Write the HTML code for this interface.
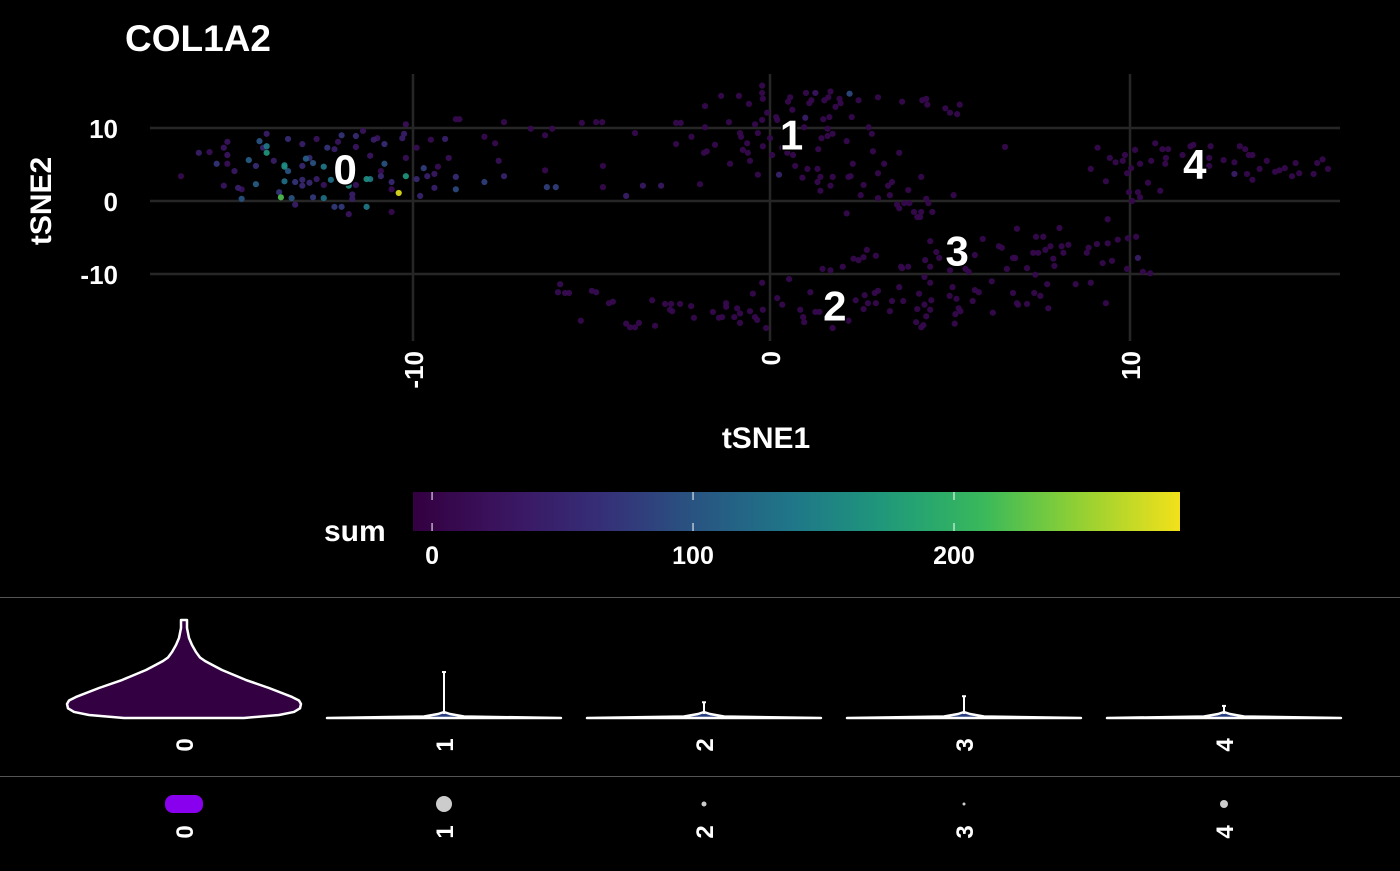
<!DOCTYPE html>
<html><head><meta charset="utf-8">
<style>
html,body{margin:0;padding:0;background:#000;}
body{width:1400px;height:866px;overflow:hidden;font-family:"Liberation Sans",Arial,sans-serif;}
svg text{font-family:"Liberation Sans",Arial,sans-serif;font-weight:bold;fill:#fff;}
</style></head>
<body>
<svg id="chart" width="1400" height="866" viewBox="0 0 1400 866">
  <rect x="0" y="0" width="1400" height="866" fill="#000"/>
  <text x="125" y="51" font-size="37">COL1A2</text>
  <g id="grid"></g>
  <g id="points"></g>
  <g id="clabels"></g>
  <g id="yticks"></g>
  <g id="xticks"></g>
  <text transform="translate(51,201) rotate(-90)" text-anchor="middle" font-size="30">tSNE2</text>
  <text x="766" y="448" text-anchor="middle" font-size="30">tSNE1</text>
  <defs><linearGradient id="vir" x1="0" x2="1" y1="0" y2="0"></linearGradient></defs>
  <text x="324" y="541" font-size="30">sum</text>
  <rect x="413" y="492" width="767" height="39" fill="url(#vir)"/>
  <g id="cbticks"></g>
  <line x1="0" y1="597.5" x2="1400" y2="597.5" stroke="#555" stroke-width="1"/>
  <line x1="0" y1="776.5" x2="1400" y2="776.5" stroke="#555" stroke-width="1"/>
  <g id="violins"></g>
  <g id="dots"></g>
</svg>
<script>
// ---- data ----
const xTicks = [-10, 0, 10];
const yTicks = [10, 0, -10];
const cbTicks = [0, 100, 200];
const cbDomain = [-7.3, 286.6];
const clusters = ["0", "1", "2", "3", "4"];
const clusterLabelX = [-11.9, 0.6, 1.8, 5.2, 11.8];
const clusterLabelY = [4.4, 9.1, -14.3, -6.8, 5.1];
// cluster 0 cells [tSNE1, tSNE2, sum]
const cellsCluster0 = [
[-16.5,3.4,10],[-16.0,6.6,40],[-15.7,6.7,20],[-15.3,7.3,30],[-15.2,8.1,25],[-15.2,6.3,30],[-15.5,5.1,70],[-15.2,5.1,20],
[-15.0,4.1,35],[-15.3,2.1,30],[-14.9,1.8,45],[-14.8,1.6,25],[-14.8,0.3,100],[-14.6,5.6,110],[-14.4,4.8,60],[-14.3,8.2,100],
[-14.1,9.2,40],[-14.1,7.5,140],[-14.1,6.6,170],[-14.2,7.3,50],[-14.4,2.3,110],[-13.9,5.5,40],[-13.75,1.2,70],[-13.7,0.5,220],
[-13.6,4.9,150],[-13.6,4.7,160],[-13.5,4.1,100],[-13.6,2.7,130],[-13.4,0.4,100],[-13.5,8.5,60],[-13.3,-0.5,40],[-13.3,2.6,70],
[-13.1,2.9,55],[-13.1,2.1,55],[-13.1,4.8,55],[-13.1,7.8,40],[-13.0,5.8,110],[-12.9,5.9,55],[-12.8,5.2,100],[-12.9,2.5,55],
[-12.8,0.5,75],[-12.7,3.0,40],[-12.7,8.5,25],[-12.5,0.4,130],[-12.5,4.7,140],[-12.5,2.2,25],[-12.4,7.3,70],[-12.3,2.9,130],
[-12.2,-0.8,75],[-12.2,7.1,40],[-12.1,8.1,25],[-12.0,9.0,70],[-12.0,-0.8,75],[-11.8,-1.8,30],[-11.8,2.1,160],[-11.7,0.3,40],
[-11.7,0.9,40],[-11.6,8.9,60],[-11.6,2.2,30],[-11.6,7.4,30],[-11.4,9.6,25],[-11.3,3.0,160],[-11.2,3.0,140],[-11.3,-0.8,140],
[-11.2,6.2,30],[-11.1,8.4,40],[-11.0,8.6,30],[-10.9,4.1,15],[-10.8,7.8,60],[-10.8,5.1,100],[-10.9,3.4,55],[-10.6,2.6,55],
[-10.6,1.6,15],[-10.4,1.1,280],[-10.2,3.4,170],[-10.3,8.6,40],[-10.25,9.2,40],[-10.2,10.5,20],[-10.2,5.9,20],[-10.6,-1.5,10],
[-9.9,7.3,15],[-9.7,4.5,80],[-9.9,3.0,55],[-9.6,3.4,45],[-9.8,0.7,50],[-9.5,8.4,15],[-9.1,8.5,45],[-9.3,4.7,15],
[-9.4,3.7,35],[-9.4,1.8,45],[-9.0,5.9,20],[-8.8,3.3,60],[-8.8,1.6,90],[-8.8,11.2,10],[-8.7,11.2,10],[-8.0,2.6,80],
[-8.0,8.8,10],[-7.7,7.9,10],[-7.6,5.5,20],[-7.45,10.8,10],[-7.45,3.4,50],[-6.7,9.9,10],[-6.3,9.0,10],[-6.1,9.9,10],
[-6.3,4.2,10],[-6.25,1.9,80],[-6.0,1.9,80]
];
// cluster 1 cells
const cellsCluster1 = [
[-5.27,10.7,8],[-4.87,10.8,8],[-4.7,10.8,8],[-3.78,9.3,8],[-4.68,4.8,8],[-4.68,1.9,8],[-4.03,0.7,40],[-3.56,2.1,35],
[-3.05,2.1,35],[-2.63,10.7,8],[-2.5,10.7,8],[-2.63,7.8,8],[-2.2,8.8,8],[-1.96,2.3,8],[-1.82,13.0,8],[-1.82,10.1,8],
[-1.85,6.6,8],[-1.77,6.8,8],[-1.54,7.7,8],[-1.37,14.4,8],[-1.15,10.8,8],[-1.12,5.1,8],[-0.87,14.4,8],[-0.84,9.3,8],
[-0.81,8.8,8],[-0.76,7.0,8],[-0.64,7.9,8],[-0.59,13.3,8],[-0.62,6.6,8],[-0.56,5.5,8],[-0.42,10.5,8],[-0.34,3.6,8],
[-0.34,9.3,8],[-0.22,15.8,8],[-0.22,14.8,8],[-0.2,14.0,8],[-0.22,11.1,8],[-0.2,7.5,8],[-0.08,12.1,8],[0,8.6,8],
[0.06,6.3,8],[0.17,11.5,8],[0.2,11.1,8],[0.25,3.6,50],[0.34,7.3,8],[0.48,6.6,8],[0.5,13.6,8],[0.56,14.2,8],
[0.64,6.3,8],[0.62,12.5,8],[0.7,4.8,8],[0.81,7.4,8],[0.9,3.2,8],[0.95,10.1,8],[0.98,11.4,40],[1.0,14.8,8],
[1.04,4.4,8],[1.09,13.4,8],[1.15,13.8,8],[1.26,14.8,30],[1.32,4.4,8],[1.32,2.6,8],[1.34,7.1,8],[1.4,3.3,8],
[1.4,1.4,8],[1.43,8.6,8],[1.48,11.2,8],[1.51,13.8,8],[1.6,8.9,8],[1.6,9.9,8],[1.62,14.2,8],[1.65,11.5,8],
[1.68,15.0,8],[1.68,2.1,8],[1.74,3.3,8],[1.74,9.2,8],[1.82,12.9,8],[1.93,14.0,8],[1.96,13.4,8],[2.13,8.2,8],
[2.13,-1.7,8],[2.18,3.3,8],[2.24,3.4,8],[2.21,14.7,90],[2.27,11.5,8],[2.3,5.1,8],[2.46,13.8,8],[2.52,0.8,8],
[2.6,2.2,8],[2.74,10.1,8],[2.83,9.2,8],[2.86,6.8,8],[3.0,14.2,8],[3.0,3.8,8],[3.0,0.4,8],[3.17,5.1,8],
[3.28,2.1,8],[3.33,0.8,8],[3.39,2.6,8],[3.53,-0.5,8],[3.59,6.6,8],[3.59,-1.0,8],[3.67,13.6,8],[3.73,-0.3,8],
[3.84,1.5,8],[3.87,-0.3,8],[4.0,-1.5,8],[4.09,-2.2,8],[4.17,-2.2,8],[4.2,3.3,8],[4.2,-1.5,8],[4.23,13.8,8],
[4.34,14.0,8],[4.37,13.2,8],[4.34,0.3,8],[4.4,-0.3,8],[4.51,-1.5,8],[4.87,12.7,8],[5.0,12.1,8],[5.1,0.8,8],
[5.2,11.9,8],[5.27,13.2,8],[6.53,7.4,8]
];
// cluster 2 & 3 cells
const cellsCluster23 = [
[-5.88,-11.4,12],[-5.94,-12.5,12],[-5.74,-12.6,12],[-5.63,-12.6,12],[-4.99,-12.3,12],[-4.87,-12.5,12],[-5.3,-16.4,8],[-4.51,-14.0,10],
[-4.4,-13.8,10],[-4.03,-16.8,8],[-3.92,-17.3,8],[-3.78,-17.3,8],[-3.67,-16.7,8],[-3.3,-13.6,8],[-3.22,-17.1,8],[-2.94,-14.1,8],
[-2.77,-14.1,8],[-2.8,-14.9,8],[-2.74,-15.1,8],[-2.52,-14.1,8],[-2.21,-14.4,8],[-2.13,-16.0,8],[-1.6,-15.2,8],[-1.43,-16.0,8],
[-1.34,-15.9,8],[-1.23,-14.0,8],[-1.23,-14.5,8],[-1.0,-15.9,8],[-0.92,-14.7,8],[-0.84,-15.4,8],[-0.84,-16.7,8],[-0.56,-15.1,8],
[-0.48,-12.7,8],[-0.42,-15.9,8],[-0.36,-16.3,8],[-0.22,-11.2,8],[-0.2,-14.9,8],[-0.11,-17.4,8],[0.2,-13.3,8],[0.34,-14.2,8],
[0.53,-10.7,8],[0.84,-14.9,8],[0.92,-15.9,8],[0.95,-16.6,8],[1.12,-12.5,8],[1.26,-15.2,8],[1.37,-15.2,8],[1.46,-9.3,8],
[1.68,-9.5,8],[1.74,-17.4,8],[2.02,-9.0,8],[2.18,-16.4,8],[2.32,-7.9,8],[2.38,-13.6,8],[2.46,-8.1,8],[2.6,-7.7,8],
[2.6,-14.8,8],[2.63,-12.9,8],[2.69,-6.7,8],[2.72,-14.0,8],[2.91,-12.6,8],[2.94,-7.5,8],[2.94,-14.0,8],[3.0,-12.3,8],
[3.33,-15.1,8],[3.39,-13.7,8],[3.59,-11.8,8],[3.64,-9.0,8],[3.67,-9.2,8],[3.7,-13.7,8],[3.84,-9.0,8],[4.06,-16.6,8],
[4.09,-14.8,8],[4.14,-12.7,8],[4.2,-17.3,8],[4.26,-17.0,8],[4.29,-14.2,8],[4.29,-10.4,8],[4.31,-8.1,8],[4.34,-15.8,8],
[4.45,-14.9,8],[4.45,-11.2,8],[4.45,-9.0,8],[4.48,-13.6,8],[4.45,-5.5,8],[4.62,-7.0,8],[4.7,-7.8,8],[4.99,-13.0,8],
[5.0,-9.5,8],[5.07,-11.8,8],[5.13,-16.8,8],[5.15,-15.5,8],[5.18,-13.4,8],[5.24,-14.7,8],[5.29,-15.1,8],[5.43,-9.3,8],
[5.52,-9.7,8],[5.63,-13.7,8],[5.69,-12.2,8],[5.69,-7.4,8],[5.8,-12.5,8],[5.91,-5.2,8],[6.16,-11.0,8],[6.19,-15.3,8],
[6.36,-6.2,8],[6.44,-6.4,8],[6.58,-9.3,8],[6.75,-12.6,8],[6.75,-7.8,8],[6.81,-7.8,8],[6.86,-3.8,8],[6.86,-14.0,8],
[6.89,-14.2,8],[7.14,-14.1,8],[7.14,-9.2,8],[7.31,-7.1,8],[7.37,-10.1,8],[7.34,-12.6,8],[7.39,-4.9,8],[7.45,-7.1,8],
[7.51,-13.0,8],[7.59,-4.9,8],[7.65,-6.7,8],[7.7,-11.4,8],[7.73,-14.7,8],[7.79,-6.2,8],[7.87,-7.9,8],[7.9,-8.9,8],
[8.04,-3.7,8],[8.1,-6.2,8],[8.15,-7.1,8],[8.29,-6.0,8],[8.49,-11.4,8],[8.8,-7.1,8],[8.85,-6.4,8],[8.91,-11.2,8],
[9.08,-5.9,8],[9.24,-8.5,8],[9.33,-14.0,8],[9.38,-2.5,8],[9.38,-5.8,8],[9.5,-8.2,8],[9.66,-5.3,8],[9.92,-9.3,8],
[9.94,-5.1,8],[10.17,-4.9,8],[10.22,-7.8,40],[10.36,-9.7,8],[10.56,-9.9,8]
];
// cluster 4 cells
const cellsCluster4 = [
[8.91,4.4,8],[9.1,7.3,8],[9.33,2.7,8],[9.44,5.9,8],[9.6,5.3,8],[9.8,5.5,8],[9.86,6.3,8],[9.92,3.8,8],
[9.97,1.2,8],[10.03,4.5,8],[10.06,0,8],[10.14,7.0,8],[10.22,1.2,8],[10.28,5.1,8],[10.28,0.5,8],[10.5,2.5,8],
[10.59,5.5,8],[10.7,7.9,8],[10.84,1.4,8],[10.9,7.1,8],[10.98,5.1,8],[11.0,5.9,8],[11.06,7.1,8],[11.46,6.3,8],
[11.68,7.5,8],[11.76,7.7,8],[12.2,5.9,8],[12.24,7.5,8],[12.2,4.8,8],[12.6,5.6,8],[12.9,5.3,8],[12.9,3.7,40],
[13.05,7.5,8],[13.2,7.1,8],[13.25,3.7,8],[13.4,2.9,8],[13.3,6.3,8],[13.4,6.3,8],[13.6,4.4,8],[13.8,5.5,8],
[14.03,4.0,8],[14.15,4.2,8],[14.3,4.5,8],[14.5,3.4,8],[14.6,5.2,8],[14.7,3.8,8],[15.1,3.7,8],[15.2,5.2,8],
[15.35,5.7,8],[15.5,4.4,8]
];
// violin: cluster 0 density profile [sum value, half-width in px]
const violin0Sum = [0, 2.5, 5, 8, 11.6, 14.5, 17.4, 24.8, 31.4, 39.7, 44, 47.1, 50, 54.5, 60.3, 66.1, 74.4, 81];
const violin0Half = [60, 95, 110, 116, 117, 115, 108, 85, 62, 38, 28, 21, 16, 12, 8, 5, 3, 3];
const violinSpikeMax = [0, 38, 13, 18, 10];
// dot plot: percent expressing and average expression
const dotSize = [1, 8, 2.5, 1.5, 4];
const dotColor = ["#8800ee", "#cccccc", "#cccccc", "#cccccc", "#cccccc"];

// ---- scales ----
const NS = "http://www.w3.org/2000/svg";
const sx = u => 770 + u * (u < 0 ? 35.7 : 36.0);
const sy = u => 201 - u * 7.3;
const stops = [[0,"#330040"],[0.12,"#3b1460"],[0.25,"#353078"],[0.38,"#275883"],[0.5,"#1f7888"],[0.62,"#1f9a7a"],[0.74,"#36b85c"],[0.86,"#8ccf35"],[1,"#f2e11a"]];
function hex(c){return [parseInt(c.slice(1,3),16),parseInt(c.slice(3,5),16),parseInt(c.slice(5,7),16)];}
function viridis(v){
  let t=(v-cbDomain[0])/(cbDomain[1]-cbDomain[0]); t=Math.max(0,Math.min(1,t));
  for(let i=1;i<stops.length;i++){ if(t<=stops[i][0]){
    const a=hex(stops[i-1][1]),b=hex(stops[i][1]); const f=(t-stops[i-1][0])/(stops[i][0]-stops[i-1][0]);
    return "rgb("+a.map((x,k)=>Math.round(x+(b[k]-x)*f)).join(",")+")"; } }
  return stops[stops.length-1][1];
}
function mk(tag, attrs, parent){ const e=document.createElementNS(NS,tag); for(const k in attrs) e.setAttribute(k,attrs[k]); parent.appendChild(e); return e; }

// grid
const grid=document.getElementById("grid");
yTicks.forEach(t=>{ const l=mk("line",{x1:150,x2:1340,y1:sy(t),y2:sy(t),stroke:"#262626","stroke-width":2.5},grid);
  
   });
xTicks.forEach(t=>{ const l=mk("line",{x1:sx(t),x2:sx(t),y1:74,y2:341,stroke:"#262626","stroke-width":2.5},grid);
  
   });

// tick labels
const yt=document.getElementById("yticks");
yTicks.forEach(t=>{ const e=mk("text",{x:118,y:sy(t)+10,"text-anchor":"end","font-size":26},yt); e.textContent=String(t);
  
   });
const xt=document.getElementById("xticks");
xTicks.forEach(t=>{ const e=mk("text",{transform:"translate("+(sx(t)+10)+",351) rotate(-90)","text-anchor":"end","font-size":26},xt); e.textContent=String(t);
  
   });

// points
const pg=document.getElementById("points");
[cellsCluster1,cellsCluster23,cellsCluster4,cellsCluster0].forEach(arr=>{
  arr.slice().sort((a,b)=>a[2]-b[2]).forEach(p=>{
    const c=mk("circle",{cx:sx(p[0]),cy:sy(p[1]),r:3.1,fill:viridis(p[2]),"fill-opacity":0.92},pg);
    
    
  });
});

// cluster labels
const cl=document.getElementById("clabels");
clusters.forEach((n,i)=>{ const e=mk("text",{x:sx(clusterLabelX[i]),y:sy(clusterLabelY[i])+15,"text-anchor":"middle","font-size":42,stroke:"#000","stroke-width":3,"paint-order":"stroke"},cl); e.textContent=n;
  
   });

// colorbar gradient + ticks
const grad=document.getElementById("vir");
for(let i=0;i<=20;i++){ const t=i/20; mk("stop",{offset:t,"stop-color":viridis(cbDomain[0]+t*(cbDomain[1]-cbDomain[0]))},grad); }
const cbx = v => 413 + (v-cbDomain[0])/(cbDomain[1]-cbDomain[0])*767;
const cbt=document.getElementById("cbticks");
cbTicks.forEach(v=>{
  const l1=mk("line",{x1:cbx(v),x2:cbx(v),y1:492,y2:500,stroke:"#fff","stroke-width":1},cbt);
  
  
  const l2=mk("line",{x1:cbx(v),x2:cbx(v),y1:523,y2:531,stroke:"#fff","stroke-width":1},cbt);
  
  
  const e=mk("text",{x:cbx(v),y:564,"text-anchor":"middle","font-size":25},cbt); e.textContent=String(v);
  
  
});

// violins
const vg=document.getElementById("violins");
const vBase=718, vScale=98/81;
const vy = s => vBase - s*vScale;
const vcx = i => 184 + i*260;
clusters.forEach((n,i)=>{
  const cx=vcx(i);
  if(i===0){
    let L=[],R=[];
    violin0Sum.forEach((s,k)=>{ L.push((cx-violin0Half[k])+","+vy(s)); R.unshift((cx+violin0Half[k])+","+vy(s)); });
    const p=mk("path",{d:"M"+L.join(" L")+" L"+R.join(" L")+" Z",fill:"#330042",stroke:"#fff","stroke-width":2.5,"stroke-linejoin":"round"},vg);
    
    
  } else {
    const p=mk("path",{d:"M"+(cx-117)+","+vBase+" L"+(cx-20)+","+(vBase-1.5)+" L"+(cx-6)+","+(vBase-4)+" L"+cx+","+(vBase-6)+" L"+(cx+6)+","+(vBase-4)+" L"+(cx+20)+","+(vBase-1.5)+" L"+(cx+117)+","+vBase+" Z",fill:"#2a3f80",stroke:"#fff","stroke-width":2.5,"stroke-linejoin":"round"},vg);
    
    
    const sp=mk("line",{x1:cx,x2:cx,y1:vBase-4,y2:vy(violinSpikeMax[i]),stroke:"#fff","stroke-width":2},vg);
    
    
    const cap=mk("line",{x1:cx-2,x2:cx+2,y1:vy(violinSpikeMax[i]),y2:vy(violinSpikeMax[i]),stroke:"#fff","stroke-width":2},vg);
    
    
  }
  const e=mk("text",{transform:"translate("+(cx+9)+",745) rotate(-90)","text-anchor":"middle","font-size":24},vg); e.textContent=n;
  
  
});

// dots
const dg=document.getElementById("dots");
clusters.forEach((n,i)=>{
  const cx=vcx(i);
  if(i===0){
    const r=mk("rect",{x:cx-19,y:795,width:38,height:18,rx:8,fill:dotColor[i]},dg);
    
    
  } else {
    const c=mk("circle",{cx:cx,cy:804,r:dotSize[i],fill:dotColor[i]},dg);
    
    
  }
  const e=mk("text",{transform:"translate("+(cx+9)+",832) rotate(-90)","text-anchor":"middle","font-size":24},dg); e.textContent=n;
  
  
});
</script>
</body></html>
